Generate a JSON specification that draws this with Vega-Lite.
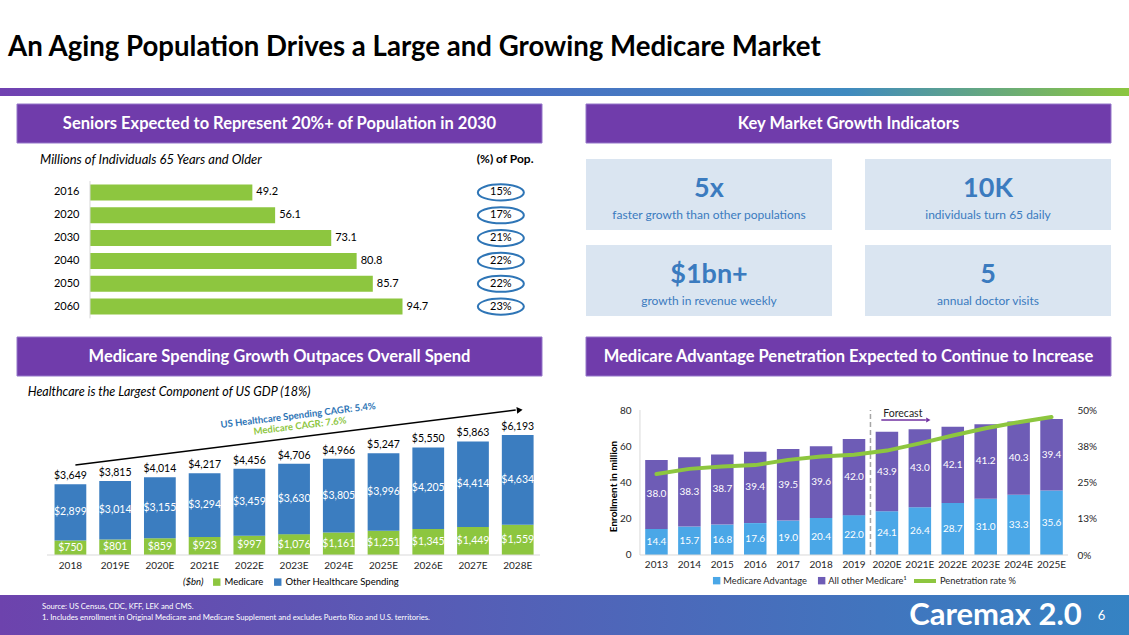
{
"$schema":"https://vega.github.io/schema/vega-lite/v6.json",
"padding":0,
"background":"#ffffff",
"spacing":0,
"config":{"view":{"stroke":null},"font":"Lato","axis":{"grid":false}},
"resolve":{"scale":{"fill":"independent","stroke":"independent"},"legend":{"fill":"independent","stroke":"independent"}},
"vconcat":[
{"width":1129,"height":88,"data":{"values":[{}]},"mark":{"type":"rect","opacity":0},
 "title":{"text":"An Aging Population Drives a Large and Growing Medicare Market","anchor":"start","frame":"group","orient":"top","offset":-83.7,"baseline":"alphabetic","dx":8,"fontSize":27.6,"fontWeight":"bold","color":"#000000"}},
{"width":1129,"height":8,"data":{"values":[{}]},"mark":{"type":"rect","fill":{"gradient":"linear","stops":[{"offset":0,"color":"#7141b1"},{"offset":0.45,"color":"#4a6ec3"},{"offset":0.75,"color":"#3f8ac0"},{"offset":1,"color":"#8cc63f"}]}}},
{"width":1129,"height":7,"data":{"values":[{}]},"mark":{"type":"rect","opacity":0}},
{"hconcat":[
 {"width":17,"height":39,"data":{"values":[{}]},"mark":{"type":"rect","opacity":0}},
 {"width":525,"height":39,"data":{"values":[{"t":"Seniors Expected to Represent 20%+ of Population in 2030"}]},"layer":[{"mark":{"type":"rect","fill":"#703cab","stroke":"#9477c9","strokeWidth":1}},{"mark":{"type":"text","color":"#ffffff","fontSize":16.5,"fontWeight":"bold","baseline":"middle"},"encoding":{"text":{"field":"t","type":"nominal"}}}]},
 {"width":44,"height":39,"data":{"values":[{}]},"mark":{"type":"rect","opacity":0}},
 {"width":525,"height":39,"data":{"values":[{"t":"Key Market Growth Indicators"}]},"layer":[{"mark":{"type":"rect","fill":"#703cab","stroke":"#9477c9","strokeWidth":1}},{"mark":{"type":"text","color":"#ffffff","fontSize":16.5,"fontWeight":"bold","baseline":"middle"},"encoding":{"text":{"field":"t","type":"nominal"}}}]},
 {"width":18,"height":39,"data":{"values":[{}]},"mark":{"type":"rect","opacity":0}}
],"spacing":0,"bounds":"flush"},
{"hconcat":[
 {"width":17,"height":192,"data":{"values":[{}]},"mark":{"type":"rect","opacity":0}},
 {"width":525,"height":192,
  "title":{"text":"Millions of Individuals 65 Years and Older","anchor":"start","frame":"group","orient":"top","offset":-33,"baseline":"alphabetic","dx":23,"fontSize":13,"fontStyle":"italic","fontWeight":"normal","color":"#000000"},
  "layer":[
   {"data":{"values":[{"year":"2016","pop":49.2},{"year":"2020","pop":56.1},{"year":"2030","pop":73.1},{"year":"2040","pop":80.8},{"year":"2050","pop":85.7},{"year":"2060","pop":94.7}]},
    "encoding":{
     "y":{"field":"year","type":"ordinal","sort":null,"scale":{"domain":["2016","2020","2030","2040","2050","2060"],"range":[37,174],"paddingInner":0.3,"paddingOuter":0.15},"axis":{"title":null,"offset":-73,"domain":false,"ticks":false,"tickSize":0,"labelFontSize":11,"labelColor":"#000000","labelPadding":11}},
     "x":{"field":"pop","type":"quantitative","scale":{"domain":[-22.12,136.97],"nice":false,"zero":false},"axis":null}},
    "layer":[
     {"mark":{"type":"bar","color":"#8dc63f"}},
     {"mark":{"type":"text","align":"left","dx":4,"fontSize":11,"color":"#000000"},"encoding":{"text":{"field":"pop","type":"quantitative","format":".1f"}}}
    ]},
   {"data":{"values":[{"year":"2016","pct":0.15},{"year":"2020","pct":0.17},{"year":"2030","pct":0.21},{"year":"2040","pct":0.22},{"year":"2050","pct":0.22},{"year":"2060","pct":0.23}]},
    "encoding":{"y":{"field":"year","type":"ordinal"},"x":{"datum":124.5,"axis":null}},
    "layer":[
     {"mark":{"type":"point","shape":"M-1,0A1,0.35,0,1,1,1,0A1,0.35,0,1,1,-1,0Z","size":2116,"filled":false,"stroke":"#2e75b6","strokeWidth":2,"opacity":1}},
     {"mark":{"type":"text","fontSize":11,"color":"#000000","baseline":"middle"},"encoding":{"text":{"field":"pct","type":"quantitative","format":".0%"}}}
    ]},
   {"data":{"values":[{}]},"mark":{"type":"text","fontSize":12,"fontWeight":"bold","color":"#000000","baseline":"alphabetic","yOffset":-29.4},"encoding":{"x":{"datum":125.8,"axis":null},"y":{"datum":"2016"},"text":{"value":"(%) of Pop."}}},
   {"data":{"values":[{}]},"mark":{"type":"rule","color":"#d9d9d9","strokeWidth":1,"yOffset":-11.4,"y2Offset":11.8},"encoding":{"x":{"datum":0,"axis":null},"y":{"datum":"2016"},"y2":{"datum":"2060"}}}
  ]},
 {"width":44,"height":192,"data":{"values":[{}]},"mark":{"type":"rect","opacity":0}},
 {"width":525,"height":192,
  "data":{"values":[{"c":"a","r":"1","big":"5x","small":"faster growth than other populations"},{"c":"b","r":"1","big":"10K","small":"individuals turn 65 daily"},{"c":"a","r":"2","big":"$1bn+","small":"growth in revenue weekly"},{"c":"b","r":"2","big":"5","small":"annual doctor visits"}]},
  "encoding":{
   "x":{"field":"c","type":"nominal","scale":{"paddingInner":0.1183,"paddingOuter":0},"axis":null},
   "y":{"field":"r","type":"nominal","scale":{"paddingInner":0.1744,"paddingOuter":0.2035,"align":0.4286},"axis":null}},
  "layer":[
   {"mark":{"type":"rect","fill":"#dae5f1"}},
   {"mark":{"type":"text","fontSize":27,"fontWeight":"bold","color":"#3b7bbf","baseline":"alphabetic","dy":2.5},"encoding":{"text":{"field":"big","type":"nominal"}}},
   {"mark":{"type":"text","fontSize":12,"color":"#3b7bbf","baseline":"alphabetic","dy":24},"encoding":{"text":{"field":"small","type":"nominal"}}}
  ]},
 {"width":18,"height":192,"data":{"values":[{}]},"mark":{"type":"rect","opacity":0}}
],"spacing":0,"bounds":"flush"},
{"hconcat":[
 {"width":17,"height":39,"data":{"values":[{}]},"mark":{"type":"rect","opacity":0}},
 {"width":525,"height":39,"data":{"values":[{"t":"Medicare Spending Growth Outpaces Overall Spend"}]},"layer":[{"mark":{"type":"rect","fill":"#703cab","stroke":"#9477c9","strokeWidth":1}},{"mark":{"type":"text","color":"#ffffff","fontSize":16.5,"fontWeight":"bold","baseline":"middle"},"encoding":{"text":{"field":"t","type":"nominal"}}}]},
 {"width":44,"height":39,"data":{"values":[{}]},"mark":{"type":"rect","opacity":0}},
 {"width":525,"height":39,"data":{"values":[{"t":"Medicare Advantage Penetration Expected to Continue to Increase"}]},"layer":[{"mark":{"type":"rect","fill":"#703cab","stroke":"#9477c9","strokeWidth":1}},{"mark":{"type":"text","color":"#ffffff","fontSize":16.5,"fontWeight":"bold","baseline":"middle"},"encoding":{"text":{"field":"t","type":"nominal"}}}]},
 {"width":18,"height":39,"data":{"values":[{}]},"mark":{"type":"rect","opacity":0}}
],"spacing":0,"bounds":"flush"},
{"hconcat":[
 {"width":17,"height":218,"data":{"values":[{}]},"mark":{"type":"rect","opacity":0}},
 {"width":525,"height":218,
  "title":{"text":"Healthcare is the Largest Component of US GDP (18%)","anchor":"start","frame":"group","orient":"top","offset":-31.4,"baseline":"alphabetic","dx":10.7,"fontSize":12.5,"fontStyle":"italic","fontWeight":"normal","color":"#000000"},
  "layer":[
   {"data":{"values":[
     {"year":"2018","series":"Medicare","ord":1,"value":750},{"year":"2018","series":"Other Healthcare Spending","ord":2,"value":2899},
     {"year":"2019E","series":"Medicare","ord":1,"value":801},{"year":"2019E","series":"Other Healthcare Spending","ord":2,"value":3014},
     {"year":"2020E","series":"Medicare","ord":1,"value":859},{"year":"2020E","series":"Other Healthcare Spending","ord":2,"value":3155},
     {"year":"2021E","series":"Medicare","ord":1,"value":923},{"year":"2021E","series":"Other Healthcare Spending","ord":2,"value":3294},
     {"year":"2022E","series":"Medicare","ord":1,"value":997},{"year":"2022E","series":"Other Healthcare Spending","ord":2,"value":3459},
     {"year":"2023E","series":"Medicare","ord":1,"value":1076},{"year":"2023E","series":"Other Healthcare Spending","ord":2,"value":3630},
     {"year":"2024E","series":"Medicare","ord":1,"value":1161},{"year":"2024E","series":"Other Healthcare Spending","ord":2,"value":3805},
     {"year":"2025E","series":"Medicare","ord":1,"value":1251},{"year":"2025E","series":"Other Healthcare Spending","ord":2,"value":3996},
     {"year":"2026E","series":"Medicare","ord":1,"value":1345},{"year":"2026E","series":"Other Healthcare Spending","ord":2,"value":4205},
     {"year":"2027E","series":"Medicare","ord":1,"value":1449},{"year":"2027E","series":"Other Healthcare Spending","ord":2,"value":4414},
     {"year":"2028E","series":"Medicare","ord":1,"value":1559},{"year":"2028E","series":"Other Healthcare Spending","ord":2,"value":4634}]},
    "layer":[
     {"mark":{"type":"bar"},"encoding":{
       "x":{"field":"year","type":"ordinal","sort":null,"scale":{"domain":["2018","2019E","2020E","2021E","2022E","2023E","2024E","2025E","2026E","2027E","2028E"],"paddingInner":0.29,"paddingOuter":0.5135,"align":0.817},"axis":{"title":null,"offset":-40,"labelAngle":0,"domain":false,"ticks":false,"tickSize":0,"labelPadding":5,"labelFontSize":10,"labelColor":"#262626"}},
       "y":{"field":"value","type":"quantitative","stack":"zero","scale":{"domain":[-2064.4,9186.6],"nice":false,"zero":false},"axis":null},
       "fill":{"field":"series","type":"nominal","scale":{"domain":["Medicare","Other Healthcare Spending"],"range":["#8dc63f","#3b7dc0"]},"legend":{"orient":"none","legendX":166,"legendY":200,"direction":"horizontal","title":"($bn)","titleOrient":"left","titleFontStyle":"italic","titleFontWeight":"normal","titleFontSize":9.5,"titleColor":"#000000","titlePadding":8,"labelFontSize":9.5,"labelColor":"#000000","symbolType":"square","symbolSize":55,"symbolStrokeWidth":0,"labelOffset":3,"columnPadding":9}},
       "order":{"field":"ord","type":"quantitative"}}},
     {"mark":{"type":"text","color":"#ffffff","fontSize":10.5,"baseline":"middle"},"encoding":{
       "x":{"field":"year","type":"ordinal"},
       "y":{"field":"value","type":"quantitative","stack":"zero","bandPosition":0.5,"axis":null},
       "detail":{"field":"series","type":"nominal"},
       "order":{"field":"ord","type":"quantitative"},
       "text":{"field":"value","type":"quantitative","format":"$,.0f"}}}
    ]},
   {"data":{"values":[{"year":"2018","total":3649},{"year":"2019E","total":3815},{"year":"2020E","total":4014},{"year":"2021E","total":4217},{"year":"2022E","total":4456},{"year":"2023E","total":4706},{"year":"2024E","total":4966},{"year":"2025E","total":5247},{"year":"2026E","total":5550},{"year":"2027E","total":5863},{"year":"2028E","total":6193}]},
    "mark":{"type":"text","baseline":"alphabetic","dy":-5,"fontSize":10.5,"color":"#000000"},
    "encoding":{"x":{"field":"year","type":"ordinal"},"y":{"field":"total","type":"quantitative","axis":null},"text":{"field":"total","type":"quantitative","format":"$,.0f"}}},
   {"data":{"values":[{}]},"mark":{"type":"rule","color":"#d9d9d9","strokeWidth":1,"xOffset":-23.4,"x2Offset":22.3},"encoding":{"x":{"datum":"2018"},"x2":{"datum":"2028E"},"y":{"datum":0,"axis":null}}},
   {"data":{"values":[{}]},"mark":{"type":"rule","color":"#000000","strokeWidth":1.5,"xOffset":5,"x2Offset":-2},"encoding":{"x":{"datum":"2018"},"x2":{"datum":"2028E"},"y":{"datum":4645,"axis":null},"y2":{"datum":7483}}},
   {"data":{"values":[{}]},"mark":{"type":"point","shape":"triangle-right","filled":true,"size":45,"color":"#000000","opacity":1,"angle":353,"xOffset":2},"encoding":{"x":{"datum":"2028E"},"y":{"datum":7483,"axis":null}}},
   {"data":{"values":[{}]},"mark":{"type":"text","angle":353,"fontSize":9.5,"fontWeight":"bold","color":"#2e75b6","xOffset":4,"baseline":"middle"},"encoding":{"x":{"datum":"2023E"},"y":{"datum":7200,"axis":null},"text":{"value":"US Healthcare Spending CAGR: 5.4%"}}},
   {"data":{"values":[{}]},"mark":{"type":"text","angle":353,"fontSize":9.5,"fontWeight":"bold","color":"#8dc63f","xOffset":6,"baseline":"middle"},"encoding":{"x":{"datum":"2023E"},"y":{"datum":6658,"axis":null},"text":{"value":"Medicare CAGR: 7.6%"}}}
  ]},
 {"width":44,"height":218,"data":{"values":[{}]},"mark":{"type":"rect","opacity":0}},
 {"width":525,"height":218,
  "layer":[
   {"layer":[
     {"data":{"values":[
       {"year":"2013","s":"Medicare Advantage","o":1,"v":14.4},{"year":"2013","s":"All other Medicare¹","o":2,"v":38.0},
       {"year":"2014","s":"Medicare Advantage","o":1,"v":15.7},{"year":"2014","s":"All other Medicare¹","o":2,"v":38.3},
       {"year":"2015","s":"Medicare Advantage","o":1,"v":16.8},{"year":"2015","s":"All other Medicare¹","o":2,"v":38.7},
       {"year":"2016","s":"Medicare Advantage","o":1,"v":17.6},{"year":"2016","s":"All other Medicare¹","o":2,"v":39.4},
       {"year":"2017","s":"Medicare Advantage","o":1,"v":19.0},{"year":"2017","s":"All other Medicare¹","o":2,"v":39.5},
       {"year":"2018","s":"Medicare Advantage","o":1,"v":20.4},{"year":"2018","s":"All other Medicare¹","o":2,"v":39.6},
       {"year":"2019","s":"Medicare Advantage","o":1,"v":22.0},{"year":"2019","s":"All other Medicare¹","o":2,"v":42.0},
       {"year":"2020E","s":"Medicare Advantage","o":1,"v":24.1},{"year":"2020E","s":"All other Medicare¹","o":2,"v":43.9},
       {"year":"2021E","s":"Medicare Advantage","o":1,"v":26.4},{"year":"2021E","s":"All other Medicare¹","o":2,"v":43.0},
       {"year":"2022E","s":"Medicare Advantage","o":1,"v":28.7},{"year":"2022E","s":"All other Medicare¹","o":2,"v":42.1},
       {"year":"2023E","s":"Medicare Advantage","o":1,"v":31.0},{"year":"2023E","s":"All other Medicare¹","o":2,"v":41.2},
       {"year":"2024E","s":"Medicare Advantage","o":1,"v":33.3},{"year":"2024E","s":"All other Medicare¹","o":2,"v":40.3},
       {"year":"2025E","s":"Medicare Advantage","o":1,"v":35.6},{"year":"2025E","s":"All other Medicare¹","o":2,"v":39.4}]},
      "layer":[
       {"mark":{"type":"bar"},"encoding":{
         "x":{"field":"year","type":"ordinal","sort":null,"scale":{"type":"band","domain":["2013","2014","2015","2016","2017","2018","2019","2020E","2021E","2022E","2023E","2024E","2025E"],"range":[54,482],"paddingInner":0.316,"paddingOuter":0.158},"axis":{"title":null,"offset":-40,"labelAngle":0,"domain":false,"ticks":false,"tickSize":0,"labelPadding":4,"labelFontSize":10,"labelColor":"#262626"}},
         "y":{"field":"v","type":"quantitative","stack":"zero","scale":{"domain":[-22.07,98.21],"nice":false,"zero":false},"axis":{"offset":-54,"values":[0,20,40,60,80],"title":"Enrollment in million","titleFontSize":10,"titleFontWeight":"bold","titleColor":"#000000","titlePadding":1,"domain":false,"ticks":false,"tickSize":0,"labelFontSize":10,"labelColor":"#262626","labelPadding":9}},
         "fill":{"field":"s","type":"nominal","scale":{"domain":["Medicare Advantage","All other Medicare¹"],"range":["#4aa7e7","#6e5cb6"]},"legend":{"orient":"none","legendX":126,"legendY":199,"direction":"horizontal","title":null,"labelFontSize":9.3,"labelColor":"#262626","symbolType":"square","symbolSize":55,"symbolStrokeWidth":0,"labelOffset":2,"columnPadding":9}},
         "order":{"field":"o","type":"quantitative"}}},
       {"mark":{"type":"text","color":"#ffffff","fontSize":10,"baseline":"middle"},"encoding":{
         "x":{"field":"year","type":"ordinal","scale":{"type":"band","domain":["2013","2014","2015","2016","2017","2018","2019","2020E","2021E","2022E","2023E","2024E","2025E"],"range":[54,482],"paddingInner":0.316,"paddingOuter":0.158}},
         "y":{"field":"v","type":"quantitative","stack":"zero","bandPosition":0.5},
         "detail":{"field":"s","type":"nominal"},
         "order":{"field":"o","type":"quantitative"},
         "text":{"field":"v","type":"quantitative","format":".1f"}}}
      ]},
     {"data":{"values":[{}]},"mark":{"type":"rule","color":"#d9d9d9","strokeWidth":1,"xOffset":-16.5},"encoding":{"x":{"datum":"2013","type":"ordinal","scale":{"type":"band","domain":["2013","2014","2015","2016","2017","2018","2019","2020E","2021E","2022E","2023E","2024E","2025E"],"range":[54,482],"paddingInner":0.316,"paddingOuter":0.158}},"y":{"datum":0},"y2":{"datum":80}}},
     {"data":{"values":[{}]},"mark":{"type":"rule","color":"#d9d9d9","strokeWidth":1,"xOffset":-16.5,"x2Offset":16.5},"encoding":{"x":{"datum":"2013","type":"ordinal","scale":{"type":"band","domain":["2013","2014","2015","2016","2017","2018","2019","2020E","2021E","2022E","2023E","2024E","2025E"],"range":[54,482],"paddingInner":0.316,"paddingOuter":0.158}},"x2":{"datum":"2025E"},"y":{"datum":0}}},
     {"data":{"values":[{}]},"mark":{"type":"rule","color":"#a6a6a6","strokeWidth":1.5,"strokeDash":[5,3],"xOffset":-16.46},"encoding":{"x":{"datum":"2020E","type":"ordinal","scale":{"type":"band","domain":["2013","2014","2015","2016","2017","2018","2019","2020E","2021E","2022E","2023E","2024E","2025E"],"range":[54,482],"paddingInner":0.316,"paddingOuter":0.158}},"y":{"datum":0},"y2":{"datum":80}}},
     {"data":{"values":[{}]},"mark":{"type":"rule","color":"#7030a0","strokeWidth":1.5,"xOffset":-5.6,"x2Offset":6},"encoding":{"x":{"datum":"2020E","type":"ordinal","scale":{"type":"band","domain":["2013","2014","2015","2016","2017","2018","2019","2020E","2021E","2022E","2023E","2024E","2025E"],"range":[54,482],"paddingInner":0.316,"paddingOuter":0.158}},"x2":{"datum":"2021E"},"y":{"datum":74.5}}},
     {"data":{"values":[{}]},"mark":{"type":"point","shape":"triangle-right","filled":true,"size":25,"color":"#7030a0","opacity":1,"xOffset":8.5},"encoding":{"x":{"datum":"2021E","type":"ordinal","scale":{"type":"band","domain":["2013","2014","2015","2016","2017","2018","2019","2020E","2021E","2022E","2023E","2024E","2025E"],"range":[54,482],"paddingInner":0.316,"paddingOuter":0.158}},"y":{"datum":74.5}}},
     {"data":{"values":[{}]},"mark":{"type":"text","fontSize":10.5,"color":"#262626","baseline":"alphabetic","xOffset":-17},"encoding":{"x":{"datum":"2021E","type":"ordinal","scale":{"type":"band","domain":["2013","2014","2015","2016","2017","2018","2019","2020E","2021E","2022E","2023E","2024E","2025E"],"range":[54,482],"paddingInner":0.316,"paddingOuter":0.158}},"y":{"datum":76.3},"text":{"value":"Forecast"}}}
   ]},
   {"data":{"values":[{"year":"2013","p":0.279},{"year":"2014","p":0.297},{"year":"2015","p":0.305},{"year":"2016","p":0.31},{"year":"2017","p":0.328},{"year":"2018","p":0.34},{"year":"2019","p":0.346},{"year":"2020E","p":0.36},{"year":"2021E","p":0.385},{"year":"2022E","p":0.412},{"year":"2023E","p":0.437},{"year":"2024E","p":0.458},{"year":"2025E","p":0.476}]},
    "mark":{"type":"line","strokeWidth":4,"strokeCap":"round"},
    "encoding":{
     "x":{"field":"year","type":"ordinal","scale":{"type":"band","domain":["2013","2014","2015","2016","2017","2018","2019","2020E","2021E","2022E","2023E","2024E","2025E"],"range":[54,482],"paddingInner":0.316,"paddingOuter":0.158}},
     "y":{"field":"p","type":"quantitative","scale":{"domain":[-0.1379,0.6138],"nice":false,"zero":false},"axis":{"orient":"right","offset":-43,"values":[0,0.125,0.25,0.375,0.5],"format":".0%","title":null,"domain":false,"ticks":false,"tickSize":0,"labelPadding":9,"labelFontSize":10,"labelColor":"#262626"}},
     "stroke":{"datum":"Penetration rate %","type":"nominal","scale":{"range":["#8dc63f"]},"legend":{"orient":"none","legendX":326,"legendY":191,"direction":"horizontal","title":null,"labelFontSize":9.3,"labelColor":"#262626","symbolType":"stroke","symbolSize":484,"symbolStrokeWidth":4,"labelOffset":2}}}}
  ],
  "resolve":{"scale":{"y":"independent"}}},
 {"width":18,"height":218,"data":{"values":[{}]},"mark":{"type":"rect","opacity":0}}
],"spacing":0,"bounds":"flush","resolve":{"scale":{"fill":"independent","stroke":"independent"},"legend":{"fill":"independent","stroke":"independent"}}},
{"hconcat":[
 {"width":880,"height":44,"data":{"values":[{}]},"mark":{"type":"rect","fill":{"gradient":"linear","stops":[{"offset":0,"color":"#6d43ad"},{"offset":1,"color":"#4175be"}]}},
  "title":{"text":"Source: US Census, CDC, KFF, LEK and CMS.","subtitle":"1.  Includes enrollment in Original Medicare and Medicare Supplement and excludes Puerto Rico and U.S. territories.","anchor":"start","frame":"group","orient":"top","offset":-29,"dx":42,"dy":-2,"fontSize":7.7,"fontWeight":"normal","color":"#ffffff","subtitleFontSize":7.7,"subtitleColor":"#ffffff","subtitlePadding":4,"zindex":1}},
 {"width":249,"height":44,"data":{"values":[{"t":"Caremax 2.0","p":"6"}]},"layer":[
  {"mark":{"type":"rect","fill":{"gradient":"linear","stops":[{"offset":0,"color":"#4175be"},{"offset":1,"color":"#3583c3"}]}}},
  {"mark":{"type":"text","color":"#ffffff","fontSize":31,"fontWeight":"bold","baseline":"middle","dx":-9,"dy":-1},"encoding":{"text":{"field":"t","type":"nominal"}}},
  {"mark":{"type":"text","color":"#ffffff","fontSize":13,"baseline":"middle","dx":97,"dy":-1},"encoding":{"text":{"field":"p","type":"nominal"}}}
 ]}
],"spacing":0,"bounds":"flush"}
]
}
